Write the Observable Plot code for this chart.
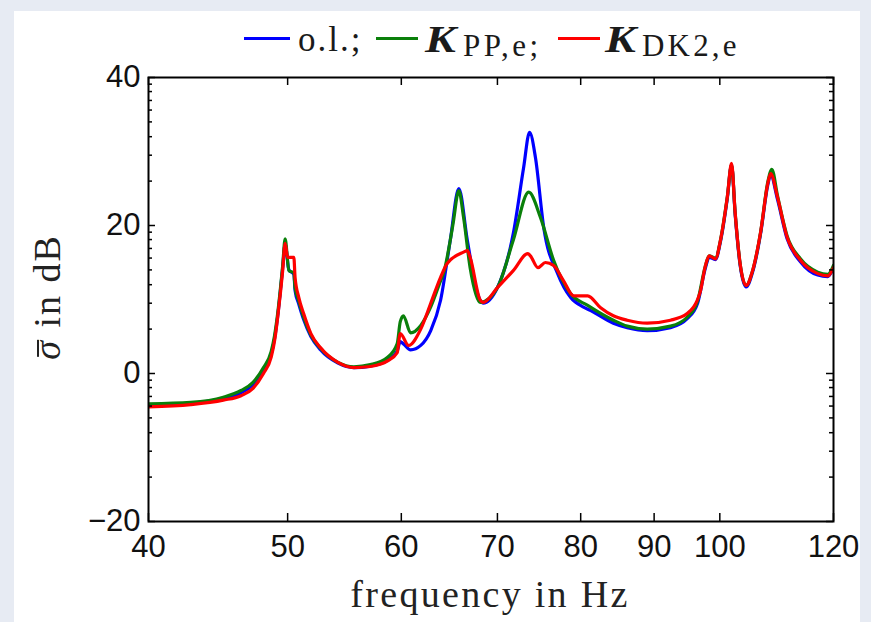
<!DOCTYPE html>
<html>
<head>
<meta charset="utf-8">
<script src="https://cdn.jsdelivr.net/npm/d3@7"></script>
<script src="https://cdn.jsdelivr.net/npm/@observablehq/plot@0.6"></script>
<style>
  html, body { margin: 0; padding: 0; width: 871px; height: 622px; overflow: hidden; background: #e7ebf3; }
  #card { position: absolute; left: 14px; top: 11px; width: 846px; height: 611px; background: #ffffff; }
  #chart { position: absolute; left: 0; top: 0; }
  .lg { position: absolute; font-family: "Liberation Serif", serif; color: #1a1a1a; line-height: 1; white-space: nowrap; }
  .sw { position: absolute; height: 3px; top: 37px; }
  .kk { font-weight: bold; font-style: italic; font-size: 37px; display: inline-block; transform: scaleX(1.25); transform-origin: left; }
  #xlab { position: absolute; left: 490px; top: 575px; transform: translateX(-50%); font-family: "Liberation Serif", serif; font-size: 38px; line-height: 1; letter-spacing: 2.3px; color: #222; white-space: nowrap; }
  #ylab { position: absolute; left: 47px; top: 297px; transform: translate(-50%, -50%) rotate(-90deg); font-family: "Liberation Serif", serif; font-size: 38px; line-height: 1; letter-spacing: 2px; color: #222; white-space: nowrap; }
  #ylab .sig { font-style: italic; position: relative; display: inline-block; }
  #ylab .bar { position: absolute; left: 3px; right: 1px; top: 0.24em; height: 2px; background: #222; }
</style>
</head>
<body>
<div id="card"></div>
<div id="chart"></div>
<div id="legend">
  <span class="sw" style="left:244px;width:46px;background:#0000ff"></span>
  <span class="lg" style="left:298px;top:22px;font-size:35px;letter-spacing:2px">o.l.;</span>
  <span class="sw" style="left:376px;width:42px;background:#0a800a"></span>
  <span class="lg kk" style="left:425px;top:21px">K</span>
  <span class="lg" style="left:463px;top:30px;font-size:31px;letter-spacing:3.5px">PP,e;</span>
  <span class="sw" style="left:558px;width:42px;background:#ff0000"></span>
  <span class="lg kk" style="left:605px;top:21px">K</span>
  <span class="lg" style="left:642px;top:30px;font-size:31px;letter-spacing:3.2px">DK2,e</span>
</div>
<div id="xlab"></div>
<div id="ylab"><span class="sig">σ<i class="bar"></i></span> in dB</div>
<script>
// ---- data (frequency in Hz, sigma in dB) ----
const freqOL  = [40, 42.8, 45.1, 46.4, 47.3, 48.1, 48.7, 48.95, 49.2, 49.6, 49.8, 50.1, 50.5, 50.6, 50.9, 51.3, 51.9, 52.7, 54.2, 55.6, 57.1, 58.7, 59.6, 59.9, 60.2, 60.9, 61.9, 62.9, 63.9, 64.9, 65.8, 66.7, 67.8, 68.4, 70.0, 71.8, 73.0, 73.7, 74.4, 75.4, 77.1, 78.7, 80.3, 81.3, 84.3, 86.2, 89.0, 92.4, 94.9, 96.5, 97.7, 98.3, 99.3, 100.1, 101.2, 101.9, 102.5, 103.3, 104.3, 105.4, 106.8, 108.0, 108.5, 109.7, 111.4, 113.8, 117.0, 118.9, 120];
const sigmaOL = [-4.3, -4.0, -3.4, -2.6, -1.5, 0.5, 2.6, 4.6, 7.6, 14.2, 17.5, 14.0, 13.4, 11.2, 9.4, 7.3, 5.0, 3.2, 1.4, 0.8, 1.0, 1.8, 3.0, 4.3, 4.0, 3.2, 3.8, 5.8, 9.9, 18.0, 25.0, 18.0, 10.8, 9.5, 11.6, 18.9, 27.8, 32.6, 29.2, 19.7, 13.5, 10.3, 9.0, 8.5, 6.8, 6.2, 5.8, 6.2, 7.4, 9.5, 14.2, 15.7, 15.4, 17.8, 23.6, 28.2, 21.4, 14.7, 11.7, 13.7, 19.1, 25.5, 26.8, 23.5, 18.2, 15.1, 13.3, 13.1, 14.3];

const freqPP  = [40, 42.8, 45.1, 46.4, 47.3, 48.1, 48.7, 48.95, 49.2, 49.6, 49.8, 50.1, 50.5, 50.6, 50.9, 51.3, 51.9, 52.7, 54.2, 55.6, 57.1, 58.7, 59.6, 59.9, 60.2, 60.9, 61.9, 62.9, 63.9, 64.2, 64.9, 65.2, 65.8, 66.3, 67.0, 68.1, 70.0, 71.8, 73.6, 75.0, 76.6, 78.7, 80.9, 84.3, 86.2, 89.0, 92.4, 94.9, 96.5, 97.7, 98.3, 99.3, 100.1, 101.2, 101.9, 102.5, 103.3, 104.3, 105.4, 106.8, 108.0, 108.7, 109.7, 111.4, 113.8, 117.0, 118.9, 120];
const sigmaPP = [-4.1, -3.9, -3.2, -2.3, -1.2, 0.8, 3.0, 5.0, 8.0, 14.5, 18.2, 13.9, 13.6, 11.6, 9.8, 7.6, 5.2, 3.4, 1.5, 0.9, 1.2, 2.2, 4.0, 7.0, 7.8, 5.5, 6.5, 9.0, 12.5, 13.5, 18.0, 20.3, 24.7, 21.1, 14.3, 9.6, 11.6, 18.0, 24.5, 21.1, 15.3, 10.8, 9.2, 7.2, 6.4, 6.0, 6.4, 7.6, 9.8, 14.5, 15.9, 15.6, 18.0, 23.8, 28.2, 21.6, 14.9, 11.9, 13.9, 19.3, 25.9, 27.6, 24.0, 18.6, 15.5, 13.7, 13.4, 14.6];

const freqDK  = [40, 42.8, 45.1, 46.4, 47.3, 48.1, 48.7, 49.0, 49.2, 49.6, 49.8, 50.0, 50.5, 50.6, 50.9, 51.3, 51.9, 52.7, 54.2, 55.6, 57.1, 58.7, 59.6, 59.9, 60.7, 61.9, 62.9, 63.9, 64.6, 66.3, 66.7, 67.0, 68.1, 68.4, 70.0, 71.8, 73.5, 73.8, 74.7, 75.6, 76.6, 77.8, 79.1, 80.9, 82.6, 84.3, 86.2, 89.0, 92.4, 94.9, 96.9, 97.7, 98.3, 99.3, 100.1, 101.2, 101.9, 102.5, 103.3, 104.3, 105.4, 106.8, 108.0, 108.5, 109.7, 111.4, 113.8, 117.0, 118.9, 120];
const sigmaDK = [-4.5, -4.2, -3.6, -3.0, -2.0, 0.0, 2.2, 4.8, 7.5, 13.8, 17.6, 15.7, 15.7, 13.0, 10.3, 8.1, 5.4, 3.5, 1.5, 0.8, 0.95, 1.7, 2.8, 5.4, 3.8, 6.0, 9.5, 13.0, 14.9, 16.4, 16.6, 15.7, 9.9, 9.6, 11.6, 13.9, 16.2, 15.9, 14.3, 15.0, 14.6, 12.6, 10.5, 10.5, 8.9, 7.8, 7.2, 6.8, 7.2, 8.1, 11.0, 14.5, 15.9, 15.5, 18.0, 23.8, 28.4, 21.6, 14.9, 11.9, 13.9, 19.3, 25.7, 27.0, 23.8, 18.4, 15.3, 13.5, 13.2, 14.3];

const xTicks = [40, 50, 60, 70, 80, 90, 100, 120];
const yTicks = [-20, 0, 20, 40];
const yMinorTicks = [-14, -10.5, -8, -6, -4.4, -3.1, -1.9, -0.9, 6, 9.5, 12, 14, 15.6, 16.9, 18.1, 19.1, 26, 29.5, 32, 34, 35.6, 36.9, 38.1, 39.1];
const xLabel = "frequency in Hz";
document.getElementById("xlab").textContent = xLabel;

const toRows = (fs, vs) => fs.map((f, i) => ({f, v: vs[i]}));
const rowsOL = toRows(freqOL, sigmaOL);
const rowsPP = toRows(freqPP, sigmaPP);
const rowsDK = toRows(freqDK, sigmaDK);

const W = 871, H = 622, mL = 148, mR = 38, mT = 77, mB = 101;
const pw = W - mL - mR, ph = H - mT - mB;
const majorLen = 7, minorLen = 4, xTickLen = 8;

const chart = Plot.plot({
  width: W, height: H,
  marginLeft: mL, marginRight: mR, marginTop: mT, marginBottom: mB,
  style: {background: "transparent", fontFamily: "Liberation Sans, Arial, sans-serif"},
  x: {type: "log", domain: [40, 120], axis: null},
  y: {domain: [-20, 40], axis: null},
  marks: [
    Plot.line(rowsOL, {x: "f", y: "v", stroke: "#0000ff", strokeWidth: 3.2, curve: "monotone-x", clip: true}),
    Plot.line(rowsPP, {x: "f", y: "v", stroke: "#0a800a", strokeWidth: 3.2, curve: "monotone-x", clip: true}),
    Plot.line(rowsDK, {x: "f", y: "v", stroke: "#ff0000", strokeWidth: 3.2, curve: "monotone-x", clip: true}),
    // inward ticks on all four sides
    Plot.ruleY(yTicks, {stroke: "black", strokeWidth: 1.5, insetRight: pw - majorLen}),
    Plot.ruleY(yTicks, {stroke: "black", strokeWidth: 1.5, insetLeft: pw - majorLen}),
    Plot.ruleY(yMinorTicks, {stroke: "black", strokeWidth: 1.5, insetRight: pw - minorLen}),
    Plot.ruleY(yMinorTicks, {stroke: "black", strokeWidth: 1.5, insetLeft: pw - minorLen}),
    Plot.ruleX(xTicks, {stroke: "black", strokeWidth: 1.5, insetTop: ph - xTickLen}),
    Plot.ruleX(xTicks, {stroke: "black", strokeWidth: 1.5, insetBottom: ph - xTickLen}),
    Plot.frame({stroke: "black", strokeWidth: 2}),
    // tick labels
    Plot.axisX({ticks: xTicks, tickSize: 0, tickPadding: 13, tickFormat: d => String(d), label: null, fontSize: 31, fill: "#111"}),
    Plot.axisY({ticks: yTicks, tickSize: 0, tickPadding: 8, tickFormat: d => d < 0 ? "\u2212" + Math.abs(d) : String(d), label: null, fontSize: 31, fill: "#111"})
  ]
});
document.getElementById("chart").appendChild(chart);
</script>
</body>
</html>
